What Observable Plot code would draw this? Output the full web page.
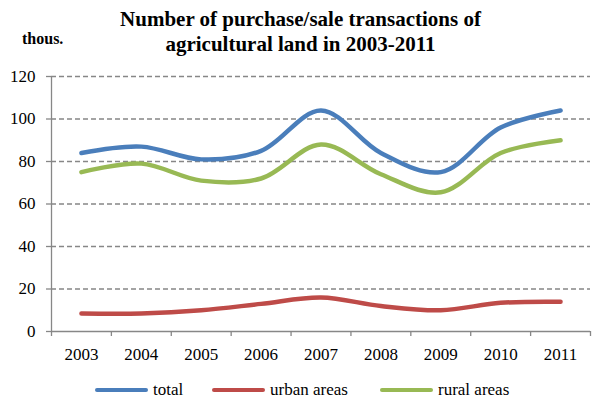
<!DOCTYPE html>
<html><head><meta charset="utf-8">
<script src="https://cdn.jsdelivr.net/npm/d3@7"></script>
<script src="https://cdn.jsdelivr.net/npm/@observablehq/plot@0.6"></script>
<style>
body{margin:0;background:#fff;}
#wrap{position:relative;width:593px;height:398px;overflow:hidden;font-family:'Liberation Serif',serif;color:#000;}
#title{position:absolute;left:0;top:7px;width:601px;text-align:center;font-weight:bold;font-size:21px;line-height:25px;font-family:'Liberation Serif',serif;}
#unit{position:absolute;left:22px;top:31px;font-weight:bold;font-size:16px;line-height:16px;font-family:'Liberation Serif',serif;}
#chart{position:absolute;left:0;top:0;}
#chart svg text{font-family:'Liberation Serif',serif !important;}
.leg{position:absolute;top:381px;font-size:17px;line-height:17px;white-space:nowrap;font-family:'Liberation Serif',serif;}
.sw{display:inline-block;width:53px;height:4.5px;border-radius:2.5px;vertical-align:middle;margin-right:5px;position:relative;top:-1px;}
</style>
</head><body>
<div id="wrap">
  <div id="chart"></div>
  <div id="title">Number of purchase/sale transactions of<br>agricultural land in 2003-2011</div>
  <div id="unit">thous.</div>
  <div id="legend"></div>
</div>
<script>
const years = [2003, 2004, 2005, 2006, 2007, 2008, 2009, 2010, 2011];
const total = [84, 87, 81, 85, 104, 84, 75, 96, 104];
const urban = [8.5, 8.5, 10, 13, 16, 12, 10, 13.5, 14];
const rural = [75, 79, 71, 72, 88, 74, 65.5, 84, 90];
const yTicks = [0, 20, 40, 60, 80, 100, 120];
const seriesNames = ["total", "urban areas", "rural areas"];
const colors = ["#4A7EBB", "#BE4B48", "#98B954"];

const seriesValues = [total, urban, rural];
const data = [];
seriesNames.forEach((s, k) => years.forEach((yr, i) => data.push({year: yr, value: seriesValues[k][i], series: s})));
const boundaries = years.map(y => y - 0.5).concat([years[years.length - 1] + 0.5]);
const grid = "#878787";

const chart = Plot.plot({
  width: 593,
  height: 398,
  marginLeft: 51,
  marginRight: 3,
  marginTop: 76,
  marginBottom: 67,
  style: {fontFamily: "'Liberation Serif', serif", fontSize: "17px", color: "#000", background: "transparent"},
  x: {type: "linear", domain: [years[0] - 0.5, years[years.length - 1] + 0.5]},
  y: {domain: [0, 120]},
  color: {domain: seriesNames, range: colors},
  marks: [
    Plot.gridY(yTicks.filter(d => d > 0), {stroke: grid, strokeOpacity: 1, strokeWidth: 1.3, strokeDasharray: "5,3"}),
    Plot.ruleY([0], {stroke: grid, strokeWidth: 1.3}),
    Plot.ruleX([years[0] - 0.5], {y1: 0, y2: 120, stroke: grid, strokeWidth: 1.3}),
    Plot.axisY({ticks: yTicks, tickSize: 5, tickPadding: 11, stroke: grid, strokeWidth: 1.3, tickFormat: d => String(d), label: null}),
    Plot.axisX({ticks: boundaries, tickSize: 5, tickFormat: () => "", stroke: grid, strokeWidth: 1.3, label: null}),
    Plot.axisX({ticks: years, tickSize: 0, tickPadding: 16, tickFormat: d => String(d), label: null}),
    Plot.line(data, {x: "year", y: "value", z: "series", stroke: "series", strokeWidth: 4.5, curve: "catmull-rom", strokeLinecap: "round"})
  ]
});
document.getElementById("chart").appendChild(chart);

const legend = document.getElementById("legend");
const legLeft = [95, 212, 380];
seriesNames.forEach((s, i) => {
  const d = document.createElement("div");
  d.className = "leg";
  d.style.left = legLeft[i] + "px";
  d.innerHTML = `<span class="sw" style="background:${colors[i]}"></span>${s}`;
  legend.appendChild(d);
});
</script>
</body></html>
